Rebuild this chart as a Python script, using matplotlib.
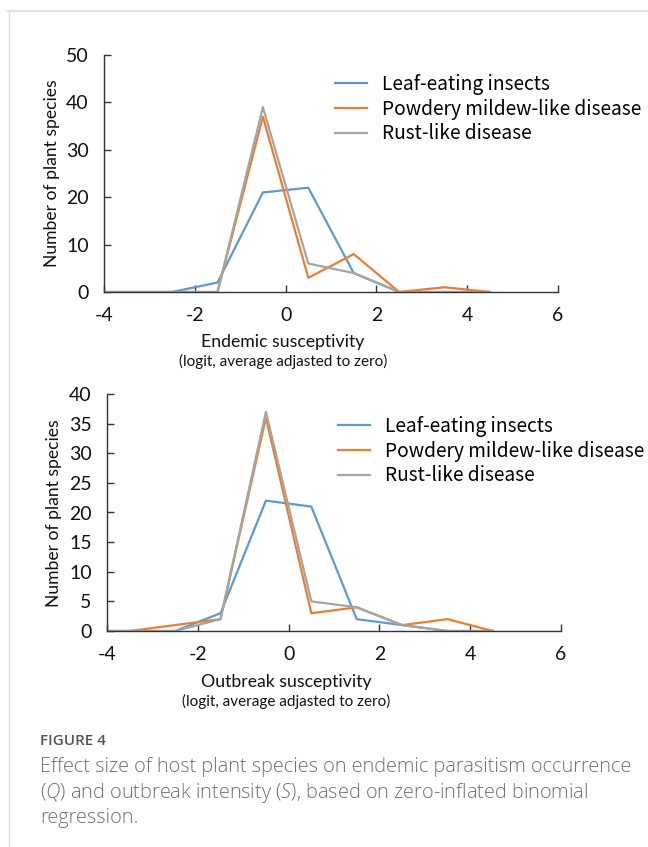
import matplotlib
matplotlib.use("Agg")
import matplotlib.pyplot as plt
from matplotlib.lines import Line2D

# bin centres of the effect-size histogram
bins = [-4.5, -3.5, -2.5, -1.5, -0.5, 0.5, 1.5, 2.5, 3.5, 4.5]
series = ["Leaf-eating insects", "Powdery mildew-like disease", "Rust-like disease"]
colors = ["#5B9BD5", "#ED7D31", "#A5A5A5"]

endemic_leaf = [0, 0, 0, 2, 21, 22, 4, 0, 0, 0]
endemic_powdery = [0, 0, 0, 0, 37, 3, 8, 0, 1, 0]
endemic_rust = [0, 0, 0, 0, 39, 6, 4, 0, 0, 0]

outbreak_leaf = [0, 0, 0, 3, 22, 21, 2, 1, 0, 0]
outbreak_powdery = [0, 0, 1, 2, 36, 3, 4, 1, 2, 0]
outbreak_rust = [0, 0, 0, 2, 37, 5, 4, 1, 0, 0]

xticks = [-4, -2, 0, 2, 4, 6]

W, H = 648, 847
plt.rcParams['font.family'] = ['Lato', 'DejaVu Sans']
plt.rcParams['axes.unicode_minus'] = False
plt.rcParams['mathtext.fontset'] = 'custom'
plt.rcParams['mathtext.it'] = 'Open Sans:italic:light'
plt.rcParams['mathtext.rm'] = 'Open Sans:light'

fig = plt.figure(figsize=(W / 100, H / 100), dpi=100)


def rect(l, t, r, b):
    return [l / W, 1 - b / H, (r - l) / W, (b - t) / H]


def fy(y):
    return 1 - y / H


def panel(box, data, ymax, ystep, xlab, lab_x, lab_y, ylab_pos, leg_x, leg_y):
    ax = fig.add_axes(rect(*box))
    for vals, c, name in zip(data, colors, series):
        ax.plot(bins, vals, color=c, lw=1.6, label=name)
    ax.set_xlim(-4, 6)
    ax.set_ylim(0, ymax)
    ax.set_xticks(xticks)
    ax.set_yticks(range(0, ymax + 1, ystep))
    for s in ['top', 'right']:
        ax.spines[s].set_visible(False)
    for s in ['left', 'bottom']:
        ax.spines[s].set_color('#333333')
        ax.spines[s].set_linewidth(1.0)
    ax.tick_params(direction='in', length=5, width=1.0, color='#333333',
                   labelsize=14, pad=11, labelcolor='#111111')
    fig.text(ylab_pos[0] / W, fy(ylab_pos[1]), "Number of plant species", rotation=90,
             ha='center', va='center', fontsize=12.6, color='#111111')
    fig.text(lab_x / W, fy(lab_y), xlab, ha='center', va='center',
             fontsize=12.7, color='#111111')
    fig.text(lab_x / W, fy(lab_y + 19), "(logit, average adjasted to zero)",
             ha='center', va='center', fontsize=11, color='#111111')
    handles = [Line2D([], [], color=c, lw=1.6) for c in colors]
    ax.legend(handles, series, loc='upper left', frameon=False,
              bbox_to_anchor=(leg_x / W, fy(leg_y)), bbox_transform=fig.transFigure,
              handlelength=1.67, handletextpad=0.8, labelspacing=0.19,
              borderaxespad=0, borderpad=0,
              prop={'family': 'Noto Sans CJK JP', 'size': 13.8})
    return ax


panel((104, 55, 558, 292), [endemic_leaf, endemic_powdery, endemic_rust], 50, 10,
      "Endemic susceptivity", 283, 342, (52, 173), 335, 74)
panel((107, 394, 561, 631), [outbreak_leaf, outbreak_powdery, outbreak_rust], 40, 5,
      "Outbreak susceptivity", 286, 682, (54, 513), 338, 416)

# card frame
fig.add_artist(Line2D([8 / W, 1], [fy(11), fy(11)], color='#e2e2e2', lw=1.5))
fig.add_artist(Line2D([9 / W, 9 / W], [0, fy(11)], color='#dddddd', lw=1.0))

# caption
fig.text(40 / W, fy(741), "FIGURE 4", fontsize=11, color='#555555',
         family='Open Sans', weight='semibold', va='center')
cap = ["Effect size of host plant species on endemic parasitism occurrence",
       "($\\mathit{Q}$) and outbreak intensity ($\\mathit{S}$), based on zero-inflated binomial",
       "regression."]
for i, line in enumerate(cap):
    fig.text(40 / W, fy(767 + 25.5 * i), line, fontsize=14.3, color='#707070',
             family='Open Sans', weight='light', va='center')

fig.savefig("out.png", dpi=100)
